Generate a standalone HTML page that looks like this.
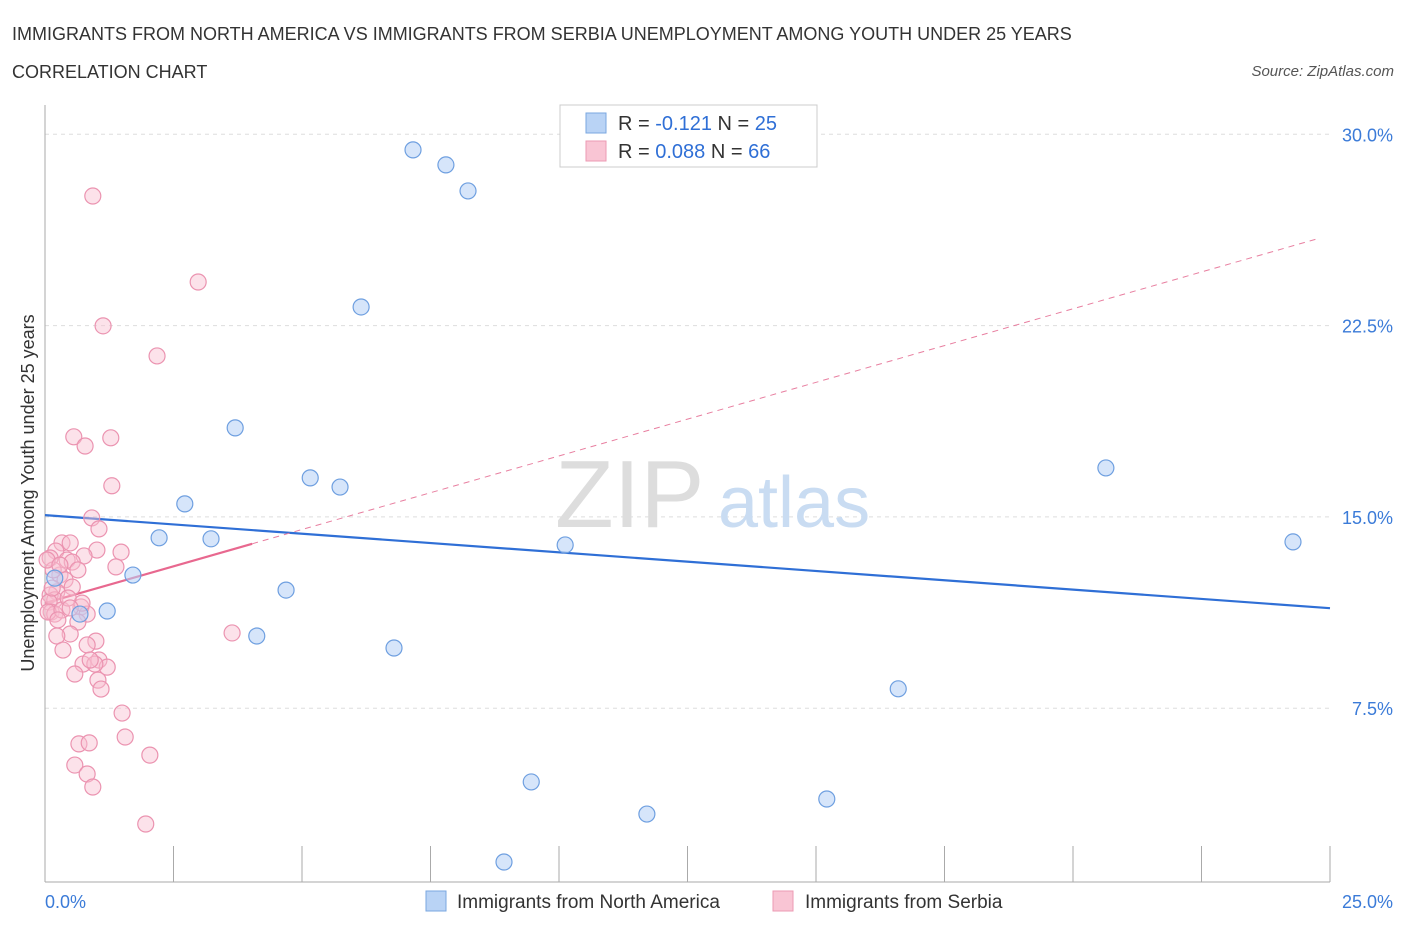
<!DOCTYPE html>
<html><head><meta charset="utf-8"><style>
body{margin:0;background:#fff;font-family:"Liberation Sans",sans-serif;}
svg text{font-family:"Liberation Sans",sans-serif;}
</style></head><body>
<svg width="1406" height="930" viewBox="0 0 1406 930">
<text x="12" y="40" font-size="18" fill="#333">IMMIGRANTS FROM NORTH AMERICA VS IMMIGRANTS FROM SERBIA UNEMPLOYMENT AMONG YOUTH UNDER 25 YEARS</text>
<text x="12" y="78" font-size="18" fill="#333">CORRELATION CHART</text>
<text x="1394" y="76" font-size="15" fill="#555" font-style="italic" text-anchor="end">Source: ZipAtlas.com</text>
<g id="grid"></g>
<g id="axes"></g>
<text x="555" y="527" font-size="96" fill="#ddd" font-family="Liberation Serif">ZIP</text>
<text x="718" y="527" font-size="72" fill="#c9dcf2">atlas</text>
<g id="trends"></g>
<g id="points"></g>
<text transform="translate(34,493) rotate(-90)" font-size="18" fill="#333" text-anchor="middle">Unemployment Among Youth under 25 years</text>
<g>
<rect x="560" y="105" width="257" height="62" fill="#fff" stroke="#ccc"/>
<rect x="586" y="113" width="20" height="20" fill="#b9d3f5" stroke="#7aa7e0"/>
<rect x="586" y="141" width="20" height="20" fill="#f9c5d4" stroke="#ec9ab3"/>
<text x="618" y="130" font-size="20" fill="#333">R = <tspan fill="#2f6fd6">-0.121</tspan>   N = <tspan fill="#2f6fd6">25</tspan></text>
<text x="618" y="158" font-size="20" fill="#333">R = <tspan fill="#2f6fd6">0.088</tspan>   N = <tspan fill="#2f6fd6">66</tspan></text>
</g>
<g>
<rect x="426" y="891" width="20" height="20" fill="#b9d3f5" stroke="#7aa7e0"/>
<text x="457" y="908" font-size="19" fill="#333">Immigrants from North America</text>
<rect x="773" y="891" width="20" height="20" fill="#f9c5d4" stroke="#ec9ab3"/>
<text x="805" y="908" font-size="19" fill="#333">Immigrants from Serbia</text>
</g>
</svg>
<script>
const yTicks=[7.5,15,22.5,30];
const yTickLabels=["7.5%","15.0%","22.5%","30.0%"];
const xTickLabels=["0.0%","25.0%"];
const blueX=[7.16,7.80,8.23,6.15,3.70,5.16,5.74,2.72,2.22,3.23,10.12,1.71,4.69,1.21,0.68,4.12,6.79,20.64,24.28,16.60,9.46,15.21,11.71,8.93,0.19];
const blueY=[29.39,28.80,27.78,23.23,18.49,16.53,16.17,15.51,14.18,14.14,13.90,12.72,12.13,11.31,11.19,10.33,9.86,16.92,14.02,8.26,4.61,3.94,3.35,1.47,12.60];
const pinkX=[0.93,2.98,1.13,2.18,0.56,1.28,0.78,1.30,0.91,1.05,0.33,0.49,1.01,0.21,1.48,0.10,0.76,0.43,0.53,1.38,0.64,0.29,0.39,0.53,0.23,0.10,0.19,0.08,0.70,0.12,0.19,0.06,0.82,0.64,0.49,0.23,0.99,0.82,3.64,0.35,0.74,1.05,1.21,0.97,0.58,1.03,1.09,1.50,0.66,0.86,1.56,0.58,2.04,0.82,0.93,1.96,0.16,0.33,0.72,0.45,0.25,0.14,0.04,0.49,0.29,0.88];
const pinkY=[27.58,24.21,22.49,21.31,18.14,18.10,17.78,16.22,14.96,14.53,13.98,13.98,13.70,13.66,13.62,13.39,13.47,13.31,13.23,13.04,12.92,12.72,12.53,12.25,12.06,11.94,11.75,11.66,11.47,11.27,11.19,11.27,11.19,10.88,10.41,10.33,10.13,9.98,10.45,9.78,9.23,9.39,9.11,9.23,8.84,8.60,8.25,7.31,6.10,6.14,6.37,5.27,5.66,4.92,4.41,2.96,12.92,11.35,11.62,11.82,10.96,12.21,13.31,11.43,13.11,9.39];
const blueTrend=[15.07,11.42];
const pinkTrend=[11.62,0.577];
const X0=45,X1=1330,Y0=899.5,YS=191.3/7.5;
const sx=v=>X0+(X1-X0)*v/25, sy=v=>Y0-v*YS;
const NS="http://www.w3.org/2000/svg";
function mk(t,a,p){const e=document.createElementNS(NS,t);for(const k in a)e.setAttribute(k,a[k]);p.appendChild(e);return e;}
const grid=document.getElementById('grid'),axes=document.getElementById('axes');
yTicks.forEach((t,i)=>{
 const l=mk('line',{x1:45,x2:1330,y1:sy(t),y2:sy(t),stroke:'#ddd','stroke-dasharray':'4,4'},grid);
 
 
 const tx=mk('text',{x:1393,y:sy(t)+7,'font-size':18,fill:'#3b7bd8','text-anchor':'end'},axes);
 tx.textContent=yTickLabels[i];
 
 
});
const ya=mk('line',{x1:45,x2:45,y1:105,y2:882,stroke:'#aaa'},axes);


const xa=mk('line',{x1:45,x2:1330,y1:882,y2:882,stroke:'#aaa'},axes);


for(let i=0;i<=10;i++){const t=mk('line',{x1:sx(i*2.5),x2:sx(i*2.5),y1:846,y2:882,stroke:'#aaa'},axes);
 
 }
[[0,45,'start'],[25,1393,'end']].forEach((a,i)=>{const t=mk('text',{x:a[1],y:908,'font-size':18,fill:'#3b7bd8','text-anchor':a[2]},axes);t.textContent=xTickLabels[i];
 
 });
const tr=document.getElementById('trends');
const bl=mk('line',{x1:sx(0),y1:sy(blueTrend[0]),x2:sx(25),y2:sy(blueTrend[1]),stroke:'#2f6fd6','stroke-width':2.2},tr);


const xe=4.03;
const pd=mk('line',{x1:sx(xe),y1:sy(pinkTrend[0]+pinkTrend[1]*xe),x2:sx(24.8),y2:sy(pinkTrend[0]+pinkTrend[1]*24.8),stroke:'#e87fa0','stroke-width':1,'stroke-dasharray':'6,5'},tr);


const ps=mk('line',{x1:sx(0),y1:sy(pinkTrend[0]),x2:sx(xe),y2:sy(pinkTrend[0]+pinkTrend[1]*xe),stroke:'#e8688f','stroke-width':2.2},tr);


const pg=document.getElementById('points');
pinkX.forEach((x,i)=>{const c=mk('circle',{cx:sx(x),cy:sy(pinkY[i]),r:8,fill:'rgba(248,190,208,0.45)',stroke:'#eb93b0','stroke-width':1.2},pg);
 
 });
blueX.forEach((x,i)=>{const c=mk('circle',{cx:sx(x),cy:sy(blueY[i]),r:8,fill:'rgba(180,208,245,0.55)',stroke:'#6e9fe0','stroke-width':1.2},pg);
 
 });
</script>
</body></html>
